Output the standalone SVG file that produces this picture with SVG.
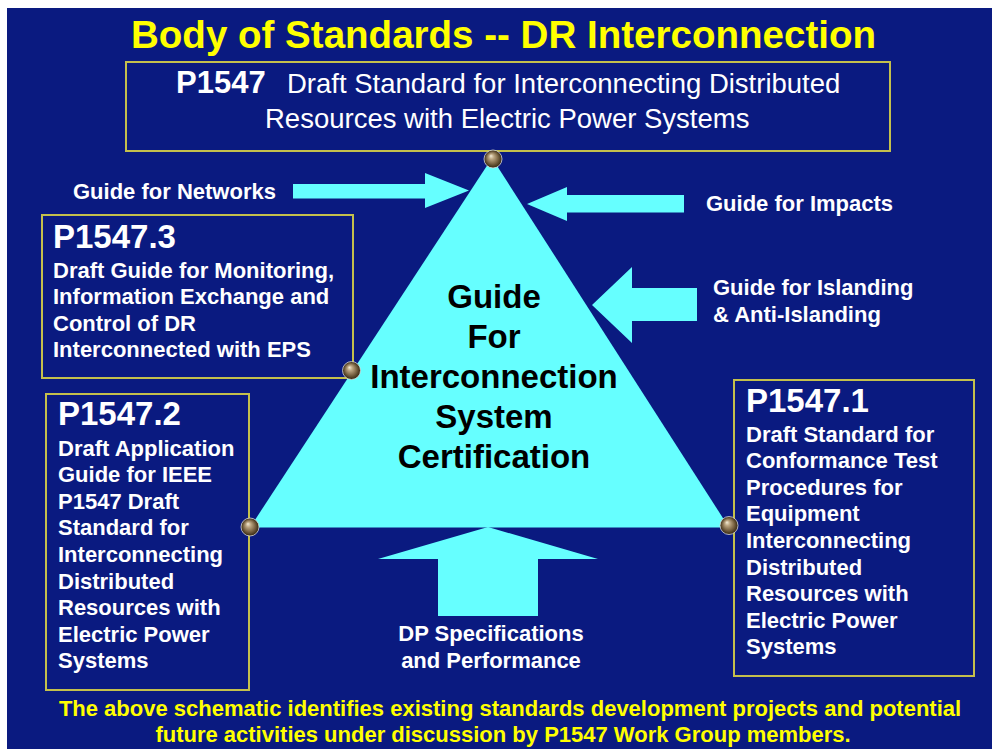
<svg xmlns="http://www.w3.org/2000/svg" width="992" height="749" viewBox="0 0 992 749">
  <defs>
    <radialGradient id="bronze" cx="50%" cy="50%" r="50%" fx="38%" fy="32%">
      <stop offset="0%" stop-color="#f4ecd8"/>
      <stop offset="28%" stop-color="#bca682"/>
      <stop offset="65%" stop-color="#7a6444"/>
      <stop offset="100%" stop-color="#34260f"/>
    </radialGradient>
    <style>
      .sans { font-family: "Liberation Sans", Arial, sans-serif; }
      .title { font-size: 38.5px; font-weight: bold; fill: #ffff00; }
      .caption { font-size: 22px; font-weight: bold; fill: #ffff00; }
      .box { fill: none; stroke: #c4c04c; stroke-width: 2; }
      .head { font-size: 33px; font-weight: bold; fill: #ffffff; }
      .body { font-size: 22px; font-weight: bold; fill: #ffffff; }
      .lead { font-size: 31px; font-weight: bold; fill: #ffffff; }
      .plain { font-size: 27.5px; fill: #ffffff; }
      .centre { font-size: 33px; font-weight: bold; fill: #000000; }
      .arrow { fill: #66ffff; }
      .ball { fill: url(#bronze); stroke: #d8d8d8; stroke-width: 0.8; }
    </style>
  </defs>

  <!-- slide background -->
  <rect x="0" y="0" width="992" height="749" fill="#ffffff"/>
  <rect x="7" y="8" width="985" height="741" fill="#0a1a80"/>

  <g id="title" class="sans">
    <text class="title" x="131" y="48" textLength="745" lengthAdjust="spacingAndGlyphs">Body of Standards -- DR Interconnection</text>
  </g>

  <!-- central triangle -->
  <g id="certification" class="sans">
    <polygon points="492,158 250,527.5 729,527.5" fill="#66ffff"/>
    <text class="centre" text-anchor="middle" x="494" y="308">Guide</text>
    <text class="centre" text-anchor="middle" x="494" y="348">For</text>
    <text class="centre" text-anchor="middle" x="494" y="388">Interconnection</text>
    <text class="centre" text-anchor="middle" x="494" y="428">System</text>
    <text class="centre" text-anchor="middle" x="494" y="468">Certification</text>
  </g>

  <!-- block arrows feeding the triangle -->
  <g id="connectors">
    <polygon class="arrow" points="293,184 425,184 425,173 469,190.5 425,208 425,198.5 293,198.5"/>
    <polygon class="arrow" points="684,195 567,195 567,187 527,204 567,221 567,212.5 684,212.5"/>
    <polygon class="arrow" points="697,288 632,288 632,267 592,305 632,343 632,321 697,321"/>
    <polygon class="arrow" points="438,616 438,559 378,559 488,527 598,559 538,559 538,616"/>
  </g>

  <g id="p1547" class="sans">
    <rect class="box" x="126" y="62" width="764" height="89"/>
    <text x="176" y="93"><tspan class="lead">P1547</tspan><tspan class="plain" x="287">Draft Standard for Interconnecting Distributed</tspan></text>
    <text class="plain" x="265" y="128">Resources with Electric Power Systems</text>
  </g>

  <g id="p1547-3" class="sans">
    <rect class="box" x="42" y="215" width="311" height="163"/>
    <text class="head" x="53" y="248">P1547.3</text>
    <text class="body" x="53" y="278">Draft Guide for Monitoring,</text>
    <text class="body" x="53" y="304">Information Exchange and</text>
    <text class="body" x="53" y="330.5">Control of DR</text>
    <text class="body" x="53" y="357">Interconnected with EPS</text>
  </g>

  <g id="p1547-2" class="sans">
    <rect class="box" x="46" y="394" width="203" height="296"/>
    <text class="head" x="58" y="425">P1547.2</text>
    <text class="body" x="58" y="455.5">Draft Application</text>
    <text class="body" x="58" y="482">Guide for IEEE</text>
    <text class="body" x="58" y="508.7">P1547 Draft</text>
    <text class="body" x="58" y="535.3">Standard for</text>
    <text class="body" x="58" y="562">Interconnecting</text>
    <text class="body" x="58" y="588.5">Distributed</text>
    <text class="body" x="58" y="615">Resources with</text>
    <text class="body" x="58" y="641.7">Electric Power</text>
    <text class="body" x="58" y="668.3">Systems</text>
  </g>

  <g id="p1547-1" class="sans">
    <rect class="box" x="734" y="380" width="240" height="296"/>
    <text class="head" x="746" y="412">P1547.1</text>
    <text class="body" x="746" y="441.5">Draft Standard for</text>
    <text class="body" x="746" y="468">Conformance Test</text>
    <text class="body" x="746" y="494.7">Procedures for</text>
    <text class="body" x="746" y="521.3">Equipment</text>
    <text class="body" x="746" y="548">Interconnecting</text>
    <text class="body" x="746" y="574.5">Distributed</text>
    <text class="body" x="746" y="601">Resources with</text>
    <text class="body" x="746" y="627.7">Electric Power</text>
    <text class="body" x="746" y="654.3">Systems</text>
  </g>

  <g id="guide-networks" class="sans">
    <text class="body" x="73" y="199">Guide for Networks</text>
  </g>

  <g id="guide-impacts" class="sans">
    <text class="body" x="706" y="211">Guide for Impacts</text>
  </g>

  <g id="guide-islanding" class="sans">
    <text class="body" x="713" y="295">Guide for Islanding</text>
    <text class="body" x="713" y="321.7">&amp; Anti-Islanding</text>
  </g>

  <g id="dp-specifications" class="sans">
    <text class="body" text-anchor="middle" x="491" y="641">DP Specifications</text>
    <text class="body" text-anchor="middle" x="491" y="668.3">and Performance</text>
  </g>

  <!-- bronze connection studs on the triangle corners -->
  <g id="studs">
    <circle class="ball" cx="493" cy="159" r="9"/>
    <circle class="ball" cx="351.5" cy="370.5" r="9"/>
    <circle class="ball" cx="250" cy="527" r="9"/>
    <circle class="ball" cx="729" cy="525.5" r="9"/>
  </g>

  <g id="caption" class="sans">
    <text class="caption" text-anchor="middle" x="510" y="716">The above schematic identifies existing standards development projects and potential</text>
    <text class="caption" text-anchor="middle" x="503" y="741.5">future activities under discussion by P1547 Work Group members.</text>
  </g>
</svg>
